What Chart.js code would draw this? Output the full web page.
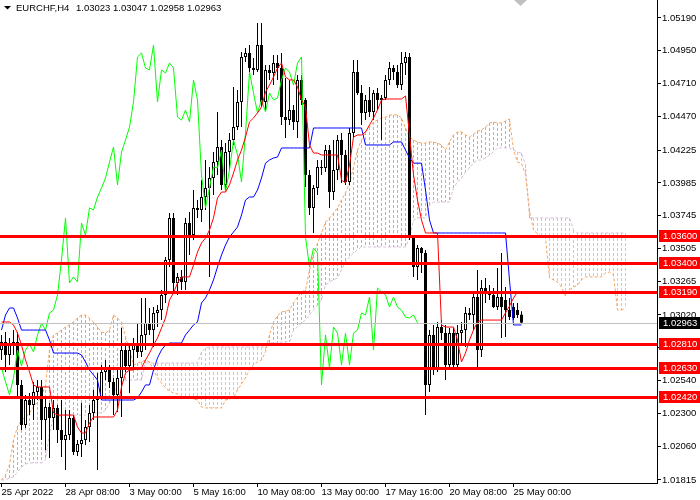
<!DOCTYPE html>
<html><head><meta charset="utf-8">
<script src="https://cdn.jsdelivr.net/npm/chart.js@4.4.1/dist/chart.umd.min.js"></script>
<style>html,body{margin:0;padding:0;background:#fff;}#wrap{width:700px;height:500px;position:relative;}</style>
</head><body><div id="wrap"><canvas id="c" width="700" height="500"></canvas></div>
<script>
const symbolTitle = "EURCHF,H4";
const titleValues = "1.03023 1.03047 1.02958 1.02963";
const xTickBars = [0,16,32,48,64,80,96,112,128];
const xTickLabels = ["25 Apr 2022","28 Apr 08:00","3 May 00:00","5 May 16:00","10 May 08:00","13 May 00:00","17 May 16:00","20 May 08:00","25 May 00:00"];
const yTickValues = [1.05190,1.04950,1.04710,1.04470,1.04225,1.03985,1.03745,1.03505,1.03265,1.03020,1.02780,1.02540,1.02300,1.02060,1.01815];
const levelLines = [1.03600,1.03400,1.03190,1.02810,1.02630,1.02420];
const currentPrice = 1.02963;
const chikouShift = 26;

const opens = [
1.02764,1.02823,1.02728,1.02801,1.02823,1.02509,1.02216,1.02399,1.02363,1.02457,
1.02494,1.02253,1.02348,1.02267,1.02341,1.02180,1.02107,1.02143,1.02267,1.02019,
1.02078,1.02107,1.02202,1.02304,1.02399,1.02421,1.02604,1.02633,1.02531,1.02436,
1.02560,1.02764,1.02647,1.02764,1.02808,1.02750,1.02874,1.02961,1.02910,1.03035,
1.03056,1.03166,1.03422,1.03729,1.03254,1.03298,1.03261,1.03692,1.03604,1.03802,
1.03787,1.03882,1.03948,1.04021,1.04137,1.04247,1.03970,1.04210,1.04298,1.04393,
1.04576,1.04905,1.04934,1.04824,1.04810,1.04992,1.04576,1.04810,1.04788,1.04861,
1.04824,1.04466,1.04444,1.04517,1.04430,1.04737,1.04591,1.04043,1.03802,1.03948,
1.04101,1.04094,1.04225,1.03918,1.04079,1.04298,1.04189,1.03991,1.04349,1.04795,
1.04642,1.04496,1.04591,1.04503,1.04642,1.04591,1.04605,1.04737,1.04824,1.04795,
1.04700,1.04861,1.04905,1.03590,1.03371,1.03509,1.03473,1.02509,1.02874,1.02633,
1.02932,1.02888,1.02655,1.02888,1.02655,1.02888,1.02910,1.03035,1.03020,1.03151,
1.02764,1.03217,1.03188,1.03166,1.03078,1.03151,1.03130,1.03056,1.03078,1.03056,
1.03023];
const highs = [
1.02874,1.02896,1.02852,1.02910,1.02896,1.02545,1.02436,1.02450,1.02531,1.02545,
1.02545,1.02421,1.02377,1.02399,1.02363,1.02399,1.02326,1.02326,1.02289,1.02107,
1.02377,1.02253,1.02363,1.02472,1.02596,1.02655,1.02691,1.02655,1.02560,1.02618,
1.02925,1.02801,1.02815,1.02852,1.02961,1.03144,1.03144,1.03071,1.03078,1.03093,
1.03203,1.03444,1.03765,1.03765,1.03327,1.03349,1.03729,1.03772,1.03933,1.03860,
1.04006,1.04152,1.04101,1.04210,1.04503,1.04298,1.04276,1.04349,1.04686,1.04664,
1.04941,1.04970,1.04992,1.04897,1.05153,1.05153,1.04846,1.04846,1.04919,1.04919,
1.04934,1.04751,1.04737,1.04554,1.04773,1.04773,1.04605,1.04079,1.03970,1.04152,
1.04152,1.04262,1.04262,1.04298,1.04335,1.04349,1.04225,1.04386,1.04883,1.04883,
1.04700,1.04627,1.04686,1.04664,1.04678,1.04627,1.04773,1.04868,1.04846,1.04846,
1.04941,1.04941,1.04934,1.03590,1.03531,1.03517,1.03495,1.02910,1.02947,1.02969,
1.02983,1.02947,1.02925,1.02925,1.02947,1.02969,1.03078,1.03071,1.03188,1.03349,
1.03276,1.03290,1.03239,1.03217,1.03363,1.03473,1.03224,1.03144,1.03108,1.03108,
1.03047];
const lows = [
1.02691,1.02604,1.02655,1.02728,1.02421,1.02180,1.02195,1.02289,1.02253,1.02399,
1.02107,1.02034,1.01975,1.02180,1.02085,1.01983,1.01888,1.02107,1.01997,1.01990,
1.01983,1.02070,1.02092,1.02253,1.01888,1.02399,1.02545,1.02487,1.02289,1.02311,
1.02275,1.02604,1.02450,1.02640,1.02706,1.02713,1.02764,1.02874,1.02786,1.02932,
1.02983,1.03108,1.03371,1.03181,1.03166,1.03203,1.03203,1.03458,1.03568,1.03729,
1.03699,1.03787,1.03298,1.03897,1.04043,1.03933,1.03933,1.04079,1.04262,1.04371,
1.04393,1.04868,1.04773,1.04773,1.04795,1.04539,1.04517,1.04737,1.04700,1.04737,
1.04408,1.04313,1.04408,1.04371,1.04313,1.04554,1.03955,1.03750,1.03619,1.03897,
1.04043,1.04065,1.03802,1.03860,1.04006,1.03984,1.03970,1.03970,1.04320,1.04627,
1.04408,1.04444,1.04466,1.04444,1.04517,1.04298,1.04591,1.04700,1.04737,1.04678,
1.04664,1.04773,1.03568,1.03298,1.03276,1.03327,1.02289,1.02457,1.02582,1.02604,
1.02837,1.02545,1.02618,1.02633,1.02633,1.02815,1.02786,1.02983,1.02910,1.02618,
1.02713,1.03108,1.03130,1.03071,1.03056,1.02852,1.02859,1.02983,1.02983,1.02998,
1.02958];
const closes = [
1.02823,1.02728,1.02801,1.02823,1.02509,1.02216,1.02399,1.02363,1.02457,1.02494,
1.02253,1.02348,1.02267,1.02341,1.02180,1.02107,1.02143,1.02267,1.02019,1.02078,
1.02107,1.02202,1.02304,1.02399,1.02421,1.02604,1.02633,1.02531,1.02436,1.02560,
1.02764,1.02647,1.02764,1.02808,1.02750,1.02874,1.02961,1.02910,1.03035,1.03056,
1.03166,1.03422,1.03729,1.03254,1.03298,1.03261,1.03692,1.03604,1.03802,1.03787,
1.03882,1.03948,1.04021,1.04137,1.04247,1.03970,1.04210,1.04298,1.04393,1.04576,
1.04905,1.04934,1.04824,1.04810,1.04992,1.04576,1.04810,1.04788,1.04861,1.04824,
1.04466,1.04444,1.04517,1.04430,1.04737,1.04591,1.04043,1.03802,1.03948,1.04101,
1.04094,1.04225,1.03918,1.04079,1.04298,1.04189,1.03991,1.04349,1.04795,1.04642,
1.04496,1.04591,1.04503,1.04642,1.04591,1.04605,1.04737,1.04824,1.04795,1.04700,
1.04861,1.04905,1.03590,1.03371,1.03509,1.03473,1.02509,1.02874,1.02633,1.02932,
1.02888,1.02655,1.02888,1.02655,1.02888,1.02910,1.03035,1.03020,1.03151,1.02764,
1.03217,1.03188,1.03166,1.03078,1.03151,1.03078,1.03056,1.03005,1.02998,1.03020,
1.02963];
const tenkan = [
1.02969,1.02969,1.02969,1.02947,1.02888,1.02801,1.02691,1.02604,1.02509,1.02494,
1.02494,1.02494,1.02494,1.02304,1.02289,1.02289,1.02289,1.02289,1.02289,1.02202,
1.02158,1.02158,1.02231,1.02275,1.02275,1.02275,1.02275,1.02275,1.02275,1.02326,
1.02494,1.02596,1.02618,1.02618,1.02633,1.02633,1.02691,1.02742,1.02801,1.02852,
1.02925,1.02998,1.03130,1.03181,1.03254,1.03298,1.03298,1.03298,1.03385,1.03480,
1.03546,1.03582,1.03641,1.03729,1.03875,1.03918,1.03918,1.03970,1.04057,1.04152,
1.04225,1.04320,1.04430,1.04459,1.04496,1.04539,1.04649,1.04700,1.04759,1.04824,
1.04861,1.04759,1.04737,1.04737,1.04686,1.04591,1.04539,1.04262,1.04203,1.04203,
1.04189,1.04189,1.04189,1.04189,1.04189,1.04006,1.03984,1.04116,1.04320,1.04335,
1.04335,1.04357,1.04408,1.04459,1.04517,1.04591,1.04598,1.04598,1.04598,1.04598,
1.04598,1.04620,1.04335,1.04043,1.03860,1.03714,1.03619,1.03619,1.03619,1.03619,
1.02947,1.02932,1.02932,1.02932,1.02837,1.02677,1.02742,1.02837,1.02910,1.02969,
1.02983,1.02983,1.02983,1.02983,1.02983,1.02983,1.03035,1.03086,1.03144,1.03188,
1.03188];
const kijun = [
1.02910,1.03020,1.03071,1.03071,1.02998,1.02910,1.02910,1.02910,1.02910,1.02910,
1.02910,1.02910,1.02837,1.02742,1.02742,1.02742,1.02742,1.02742,1.02742,1.02742,
1.02728,1.02677,1.02618,1.02582,1.02545,1.02399,1.02399,1.02399,1.02399,1.02399,
1.02399,1.02399,1.02399,1.02399,1.02414,1.02457,1.02509,1.02509,1.02618,1.02706,
1.02764,1.02801,1.02815,1.02815,1.02815,1.02815,1.02874,1.02910,1.02947,1.02969,
1.03108,1.03144,1.03203,1.03276,1.03371,1.03458,1.03531,1.03590,1.03626,1.03663,
1.03750,1.03860,1.03882,1.03882,1.03933,1.04021,1.04129,1.04152,1.04167,1.04174,
1.04240,1.04240,1.04240,1.04240,1.04240,1.04240,1.04240,1.04240,1.04386,1.04386,
1.04386,1.04386,1.04386,1.04386,1.04386,1.04386,1.04386,1.04386,1.04386,1.04386,
1.04386,1.04262,1.04262,1.04262,1.04262,1.04262,1.04262,1.04262,1.04284,1.04284,
1.04284,1.04225,1.04167,1.04129,1.04129,1.04129,1.03933,1.03714,1.03619,1.03619,
1.03619,1.03619,1.03619,1.03619,1.03619,1.03619,1.03619,1.03619,1.03619,1.03619,
1.03619,1.03619,1.03619,1.03619,1.03619,1.03619,1.03619,1.03276,1.02947,1.02947,
1.02947];
const senkouA = [
1.01815,1.01851,1.01924,1.02107,1.02202,1.02253,1.02275,1.02304,1.02348,1.02384,
1.02421,1.02509,1.02764,1.02874,1.02888,1.02910,1.02932,1.02947,1.02969,1.02998,
1.03020,1.03020,1.02998,1.02969,1.02932,1.02896,1.02888,1.02910,1.03020,1.02998,
1.02969,1.02859,1.02764,1.02655,1.02669,1.02677,1.02691,1.02677,1.02618,1.02560,
1.02523,1.02487,1.02465,1.02450,1.02443,1.02421,1.02414,1.02414,1.02406,1.02399,
1.02348,1.02341,1.02341,1.02341,1.02341,1.02341,1.02399,1.02406,1.02414,1.02472,
1.02516,1.02560,1.02618,1.02655,1.02677,1.02691,1.02750,1.02874,1.02969,1.03013,
1.03042,1.03049,1.03056,1.03108,1.03151,1.03188,1.03203,1.03349,1.03458,1.03546,
1.03619,1.03699,1.03729,1.03765,1.03802,1.03860,1.03911,1.03984,1.04101,1.04225,
1.04298,1.04357,1.04393,1.04430,1.04444,1.04459,1.04466,1.04481,1.04481,1.04481,
1.04459,1.04386,1.04320,1.04298,1.04284,1.04276,1.04276,1.04284,1.04284,1.04276,
1.04262,1.04225,1.04284,1.04335,1.04357,1.04357,1.04335,1.04320,1.04342,1.04364,
1.04371,1.04393,1.04423,1.04430,1.04423,1.04423,1.04437,1.04452,1.04225,1.04137,
1.04129,1.04043,1.03787,1.03641,1.03612,1.03597,1.03582,1.03290,1.03276,1.03261,
1.03224,1.03159,1.03203,1.03224,1.03239,1.03276,1.03298,1.03298,1.03298,1.03298,
1.03298,1.03327,1.03334,1.03312,1.03056,1.03056,1.03071];
const senkouB = [
1.01815,1.01815,1.01829,1.01837,1.01873,1.01910,1.01931,1.01939,1.01939,1.01939,
1.01939,1.01961,1.02158,1.02267,1.02282,1.02282,1.02289,1.02289,1.02289,1.02289,
1.02289,1.02289,1.02297,1.02304,1.02304,1.02304,1.02326,1.02377,1.02436,1.02509,
1.02545,1.02545,1.02545,1.02545,1.02545,1.02545,1.02669,1.02669,1.02669,1.02669,
1.02669,1.02669,1.02669,1.02669,1.02669,1.02669,1.02669,1.02669,1.02669,1.02669,
1.02750,1.02779,1.02786,1.02786,1.02786,1.02786,1.02786,1.02786,1.02786,1.02786,
1.02786,1.02786,1.02786,1.02786,1.02786,1.02786,1.02786,1.02815,1.02815,1.02815,
1.02823,1.02823,1.02823,1.02910,1.02932,1.02961,1.02983,1.03020,1.03056,1.03093,
1.03130,1.03239,1.03261,1.03276,1.03290,1.03349,1.03407,1.03444,1.03473,1.03495,
1.03517,1.03517,1.03517,1.03517,1.03517,1.03517,1.03517,1.03517,1.03517,1.03517,
1.03517,1.03517,1.03582,1.03714,1.03729,1.03729,1.03729,1.03824,1.03845,1.03845,
1.03845,1.03845,1.03845,1.03948,1.03991,1.04021,1.04065,1.04094,1.04129,1.04152,
1.04152,1.04167,1.04189,1.04210,1.04240,1.04240,1.04240,1.04240,1.04225,1.04210,
1.04203,1.04116,1.03729,1.03729,1.03729,1.03729,1.03729,1.03729,1.03729,1.03729,
1.03729,1.03729,1.03729,1.03641,1.03619,1.03619,1.03619,1.03619,1.03619,1.03619,
1.03619,1.03619,1.03619,1.03619,1.03619,1.03619,1.03619];

const FONT = '"Liberation Sans", Arial, sans-serif';
const UP_KUMO = '#F4A460', DN_KUMO = '#D8BFD8';
const canvas = document.getElementById('c');
const ctx = canvas.getContext('2d');

const wickData = highs.map((h,i)=>({x:i, y:[lows[i], h]}));
const bodyData = opens.map((o,i)=>({x:i, y:[o, closes[i]]}));
const bodyColors = opens.map((o,i)=> closes[i] > o ? '#ffffff' : '#000000');
const toXY = arr => arr.map((v,i)=>({x:i, y:v}));
const chikou = closes.slice(chikouShift).map((v,i)=>({x:i, y:v}));

const overlay = {
  id:'overlay',
  beforeDatasetsDraw(chart){
    // Ichimoku cloud hatching: dotted vertical columns between Senkou A and B
    const c = chart.ctx, a = chart.chartArea, xs = chart.scales.x, ys = chart.scales.y;
    c.save();
    c.beginPath(); c.rect(a.left, a.top, a.right-a.left, a.bottom-a.top); c.clip();
    c.globalAlpha = 1; c.globalCompositeOperation = 'source-over';
    senkouA.forEach((av,i)=>{
      const bv = senkouB[i];
      const x = Math.floor(xs.getPixelForValue(i));
      const y1 = Math.round(ys.getPixelForValue(Math.max(av,bv)));
      const y2 = Math.round(ys.getPixelForValue(Math.min(av,bv)));
      if (y2 - y1 < 1) return;
      c.fillStyle = av >= bv ? UP_KUMO : DN_KUMO;
      for (let y = y1; y < y2; y += 5) c.fillRect(x, y, 1, Math.min(3, y2 - y));
    });
    c.restore();
  },
  afterDatasetsDraw(chart){
    const c = chart.ctx, a = chart.chartArea, ys = chart.scales.y;
    c.save();
    c.beginPath(); c.rect(a.left, a.top, a.right-a.left, a.bottom-a.top); c.clip();
    c.strokeStyle = '#c0c0c0'; c.lineWidth = 1;
    let yp = Math.round(ys.getPixelForValue(currentPrice)) + 0.5;
    c.beginPath(); c.moveTo(a.left, yp); c.lineTo(a.right, yp); c.stroke();
    c.strokeStyle = '#ff0000'; c.lineWidth = 3;
    levelLines.forEach(v=>{ const y = Math.round(ys.getPixelForValue(v))+0.5;
      c.beginPath(); c.moveTo(a.left, y); c.lineTo(a.right, y); c.stroke(); });
    c.restore();
  },
  afterDraw(chart){
    const c = chart.ctx, a = chart.chartArea, ys = chart.scales.y;
    c.save();
    c.font = '9.5px ' + FONT; c.textBaseline = 'middle'; c.textAlign = 'left';
    levelLines.forEach(v=>{ const y = Math.round(ys.getPixelForValue(v));
      c.fillStyle = '#ff0000'; c.fillRect(a.right+2, y-6, 700-a.right-2, 12);
      c.fillStyle = '#ffffff'; c.fillText(v.toFixed(5), a.right+6, y+0.5); });
    const yc = Math.round(ys.getPixelForValue(currentPrice));
    c.fillStyle = '#000000'; c.fillRect(a.right+2, yc-6, 700-a.right-2, 12);
    c.fillStyle = '#ffffff'; c.fillText(currentPrice.toFixed(5), a.right+6, yc+0.5);
    c.fillStyle = '#000'; c.textBaseline = 'alphabetic';
    c.fillText(symbolTitle, 16, 11);
    c.fillText(titleValues, 76, 11);
    c.beginPath(); c.moveTo(4,6); c.lineTo(11,6); c.lineTo(7.5,9.5); c.closePath(); c.fill();
    c.fillStyle = '#c0c0c0';
    c.beginPath(); c.moveTo(514,0); c.lineTo(527,0); c.lineTo(520.5,6); c.closePath(); c.fill();
    c.restore();
  }
};

new Chart(ctx, {
  type:'bar',
  data:{ datasets:[
    {type:'line', data:toXY(senkouA), borderColor:UP_KUMO, borderWidth:1, borderDash:[3,2], pointRadius:0, tension:0, order:25},
    {type:'line', data:toXY(senkouB), borderColor:DN_KUMO, borderWidth:1, borderDash:[3,2], pointRadius:0, tension:0, order:25},
    {type:'bar', data:wickData, backgroundColor:'#000', barThickness:1, grouped:false, inflateAmount:0, borderWidth:0, order:12},
    {type:'bar', data:bodyData, backgroundColor:bodyColors, borderColor:'#000', borderWidth:1, borderSkipped:false, barThickness:3, grouped:false, inflateAmount:0, minBarLength:1, order:11},
    {type:'line', data:chikou, borderColor:'#00ff00', borderWidth:1, pointRadius:0, tension:0, order:3},
    {type:'line', data:toXY(kijun), borderColor:'#0000ff', borderWidth:1, pointRadius:0, tension:0, order:2},
    {type:'line', data:toXY(tenkan), borderColor:'#ff0000', borderWidth:1, pointRadius:0, tension:0, order:1}
  ]},
  options:{
    responsive:false, animation:false, events:[],
    layout:{padding:0},
    plugins:{legend:{display:false}, tooltip:{enabled:false}, title:{display:false}},
    scales:{
      x:{type:'linear', min:-0.375, max:163.875, offset:false,
         grid:{display:true, offset:false, drawOnChartArea:false, drawTicks:true, tickLength:4, color:'#000', lineWidth:1},
         border:{display:true, color:'#000', width:1},
         ticks:{autoSkip:false, maxRotation:0, minRotation:0, align:'start', padding:0, color:'#000',
                font:{family:FONT, size:9.5},
                callback:(v)=>{ const k = xTickBars.indexOf(v); return k>=0 ? xTickLabels[k] : ''; }},
         afterBuildTicks:(s)=>{ s.ticks = xTickBars.map(v=>({value:v})); },
         afterFit:(s)=>{ s.height = 17; s.paddingLeft = 0; s.paddingRight = 0; }
      },
      y:{type:'linear', position:'right', min:1.017927, max:1.05321,
         grid:{display:true, drawOnChartArea:false, drawTicks:true, tickLength:4, color:'#000', lineWidth:1},
         border:{display:true, color:'#000', width:1},
         ticks:{padding:1, color:'#000', font:{family:FONT, size:9.5}, callback:(v)=>Number(v).toFixed(5)},
         afterBuildTicks:(s)=>{ s.ticks = yTickValues.map(v=>({value:v})); },
         afterFit:(s)=>{ s.width = 43; s.paddingTop = 0; s.paddingBottom = 0; }
      }
    }
  },
  plugins:[overlay]
});
</script></body></html>
